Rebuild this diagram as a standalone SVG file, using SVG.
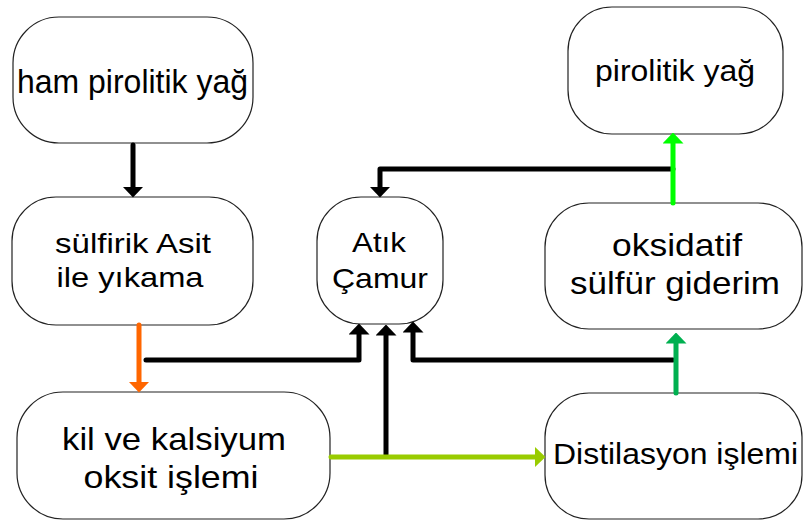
<svg xmlns="http://www.w3.org/2000/svg" width="803" height="521" viewBox="0 0 803 521">
<style>
.n{fill:#fff;stroke:#222;stroke-width:1.2}
.t{font-family:"Liberation Sans",Arial,sans-serif;fill:#000;text-anchor:middle}
.c{fill:none;stroke-width:5;stroke-linecap:round;stroke-linejoin:round}
</style>
<defs>
<marker id="ak" viewBox="0 0 11 21" markerWidth="11" markerHeight="21" refX="0.5" refY="10.5" orient="auto" markerUnits="userSpaceOnUse"><path d="M0,0 L11,10.5 L0,21 Z" fill="#000"/></marker>
<marker id="ao" viewBox="0 0 11 21" markerWidth="11" markerHeight="21" refX="0.5" refY="10.5" orient="auto" markerUnits="userSpaceOnUse"><path d="M0,0 L11,10.5 L0,21 Z" fill="#FF6600"/></marker>
<marker id="ag" viewBox="0 0 11 21" markerWidth="11" markerHeight="21" refX="0.5" refY="10.5" orient="auto" markerUnits="userSpaceOnUse"><path d="M0,0 L11,10.5 L0,21 Z" fill="#00FF00"/></marker>
<marker id="ad" viewBox="0 0 11 21" markerWidth="11" markerHeight="21" refX="0.5" refY="10.5" orient="auto" markerUnits="userSpaceOnUse"><path d="M0,0 L11,10.5 L0,21 Z" fill="#00B050"/></marker>
<marker id="ay" viewBox="0 0 11 21" markerWidth="11" markerHeight="21" refX="0.5" refY="10.5" orient="auto" markerUnits="userSpaceOnUse"><path d="M0,0 L11,10.5 L0,21 Z" fill="#99CC00"/></marker>
</defs>
<g id="n1"><rect class="n" x="13" y="17" width="240" height="126" rx="46"/><text class="t" x="132.5" y="93" font-size="33" textLength="231" lengthAdjust="spacingAndGlyphs">ham pirolitik yağ</text></g>
<g id="n2"><rect class="n" x="12" y="197" width="241" height="128" rx="44"/><text class="t" x="133" y="253" font-size="28" textLength="156" lengthAdjust="spacingAndGlyphs">sülfirik Asit</text><text class="t" x="130" y="287" font-size="28" textLength="147" lengthAdjust="spacingAndGlyphs">ile yıkama</text></g>
<g id="n3"><rect class="n" x="17" y="392" width="313" height="127" rx="46"/><text class="t" x="174" y="450" font-size="32" textLength="224" lengthAdjust="spacingAndGlyphs">kil ve kalsiyum</text><text class="t" x="171" y="488" font-size="32" textLength="175" lengthAdjust="spacingAndGlyphs">oksit işlemi</text></g>
<g id="n4"><rect class="n" x="317" y="197" width="126" height="127" rx="44"/><text class="t" x="379" y="252" font-size="28" textLength="54" lengthAdjust="spacingAndGlyphs">Atık</text><text class="t" x="380" y="288" font-size="28" textLength="96" lengthAdjust="spacingAndGlyphs">Çamur</text></g>
<g id="n5"><rect class="n" x="568" y="7" width="215" height="127" rx="44"/><text class="t" x="675" y="81" font-size="29" textLength="160" lengthAdjust="spacingAndGlyphs">pirolitik yağ</text></g>
<g id="n6"><rect class="n" x="545" y="203" width="257" height="126" rx="44"/><text class="t" x="677" y="256" font-size="32" textLength="130" lengthAdjust="spacingAndGlyphs">oksidatif</text><text class="t" x="675" y="294" font-size="32" textLength="210" lengthAdjust="spacingAndGlyphs">sülfür giderim</text></g>
<g id="n7"><rect class="n" x="545" y="393" width="257" height="126" rx="44"/><text class="t" x="675.5" y="464" font-size="30" textLength="245" lengthAdjust="spacingAndGlyphs">Distilasyon işlemi</text></g>
<g id="connectors">
<path class="c" stroke="#000" d="M133,145 L133,187" marker-end="url(#ak)"/>
<path class="c" stroke="#FF6600" d="M139,325 L139,382" marker-end="url(#ao)"/>
<path class="c" stroke="#000" d="M146,360 L359,360 L359,334" marker-end="url(#ak)"/>
<path class="c" stroke="#000" d="M386,456 L386,335" marker-end="url(#ak)"/>
<path class="c" stroke="#000" d="M673,360 L413,360 L413,332" marker-end="url(#ak)"/>
<path class="c" stroke="#000" d="M673,169 L380,169 L380,187" marker-end="url(#ak)"/>
<path class="c" stroke="#00FF00" d="M673,203 L673,143" marker-end="url(#ag)"/>
<path class="c" stroke="#00B050" d="M676,393 L676,343" marker-end="url(#ad)"/>
<path class="c" stroke="#99CC00" d="M331,457 L535,457" marker-end="url(#ay)"/>
</g>
</svg>
